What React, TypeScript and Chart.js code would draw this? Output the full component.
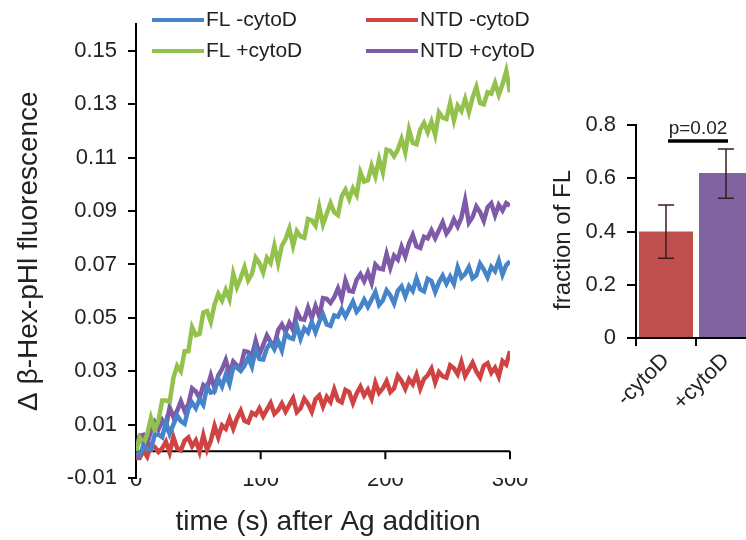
import React, { useEffect, useRef } from 'react';
import { Chart, registerables } from 'chart.js';
Chart.register(...registerables);

const FONT = '"Liberation Sans", Arial, sans-serif';

const times = [
  0, 3, 6, 9, 12, 15, 18, 21, 24, 27,
  30, 33, 36, 39, 42, 45, 48, 51, 54, 57,
  60, 63, 66, 69, 72, 75, 78, 81, 84, 87,
  90, 93, 96, 99, 102, 105, 108, 111, 114, 117,
  120, 123, 126, 129, 132, 135, 138, 141, 144, 147,
  150, 153, 156, 159, 162, 165, 168, 171, 174, 177,
  180, 183, 186, 189, 192, 195, 198, 201, 204, 207,
  210, 213, 216, 219, 222, 225, 228, 231, 234, 237,
  240, 243, 246, 249, 252, 255, 258, 261, 264, 267,
  270, 273, 276, 279, 282, 285, 288, 291, 294, 297,
  300,
];

const flMinusCytoD = [
  -0.0005, -0.0016, 0.0023, 0.0007, 0.0006, 0.0062, 0.0063, 0.0053, 0.0109, 0.0066,
  0.0100, 0.0134, 0.0113, 0.0103, 0.0159, 0.0182, 0.0161, 0.0195, 0.0174, 0.0241,
  0.0220, 0.0224, 0.0272, 0.0243, 0.0287, 0.0252, 0.0316, 0.0314, 0.0301, 0.0321,
  0.0352, 0.0317, 0.0381, 0.0346, 0.0344, 0.0386, 0.0406, 0.0382, 0.0413, 0.0378,
  0.0442, 0.0426, 0.0421, 0.0471, 0.0422, 0.0461, 0.0445, 0.0484, 0.0446, 0.0485,
  0.0513, 0.0475, 0.0470, 0.0509, 0.0504, 0.0532, 0.0505, 0.0533, 0.0561, 0.0523,
  0.0540, 0.0568, 0.0541, 0.0569, 0.0597, 0.0548, 0.0565, 0.0603, 0.0584, 0.0554,
  0.0601, 0.0618, 0.0580, 0.0619, 0.0601, 0.0648, 0.0607, 0.0599, 0.0646, 0.0638,
  0.0597, 0.0633, 0.0658, 0.0628, 0.0655, 0.0628, 0.0689, 0.0651, 0.0665, 0.0690,
  0.0648, 0.0659, 0.0703, 0.0681, 0.0652, 0.0691, 0.0675, 0.0714, 0.0662, 0.0698,
  0.0711,
];

const flPlusCytoD = [
  0.0000, 0.0050, 0.0025, 0.0065, 0.0125, 0.0080, 0.0115, 0.0190, 0.0190, 0.0185,
  0.0275, 0.0320, 0.0300, 0.0375, 0.0375, 0.0465, 0.0435, 0.0440, 0.0520, 0.0525,
  0.0485, 0.0550, 0.0590, 0.0565, 0.0605, 0.0570, 0.0665, 0.0615, 0.0650, 0.0690,
  0.0640, 0.0665, 0.0725, 0.0705, 0.0670, 0.0725, 0.0705, 0.0770, 0.0705, 0.0770,
  0.0795, 0.0835, 0.0770, 0.0825, 0.0805, 0.0800, 0.0870, 0.0865, 0.0845, 0.0915,
  0.0850, 0.0890, 0.0930, 0.0895, 0.0885, 0.0955, 0.0980, 0.0945, 0.0985, 0.0960,
  0.1045, 0.1010, 0.1015, 0.1070, 0.1030, 0.1095, 0.1045, 0.1130, 0.1125, 0.1105,
  0.1130, 0.1170, 0.1120, 0.1205, 0.1155, 0.1150, 0.1205, 0.1230, 0.1195, 0.1235,
  0.1185, 0.1270, 0.1250, 0.1245, 0.1305, 0.1240, 0.1295, 0.1275, 0.1320, 0.1270,
  0.1325, 0.1365, 0.1305, 0.1300, 0.1345, 0.1340, 0.1380, 0.1335, 0.1375, 0.1425,
  0.1345,
];

const ntdMinusCytoD = [
  -0.0025, -0.0025, 0.0003, -0.0020, 0.0024, 0.0016, -0.0003, 0.0011, 0.0036, -0.0005,
  0.0053, 0.0012, 0.0004, 0.0040, 0.0052, 0.0019, 0.0041, -0.0001, 0.0060, 0.0005,
  0.0039, 0.0095, 0.0052, 0.0097, 0.0084, 0.0123, 0.0085, 0.0124, 0.0152, 0.0114,
  0.0108, 0.0144, 0.0136, 0.0161, 0.0131, 0.0156, 0.0181, 0.0140, 0.0154, 0.0179,
  0.0149, 0.0174, 0.0199, 0.0147, 0.0161, 0.0197, 0.0178, 0.0148, 0.0195, 0.0209,
  0.0168, 0.0204, 0.0185, 0.0232, 0.0191, 0.0183, 0.0230, 0.0222, 0.0181, 0.0217,
  0.0242, 0.0209, 0.0231, 0.0198, 0.0257, 0.0219, 0.0236, 0.0263, 0.0222, 0.0236,
  0.0283, 0.0264, 0.0234, 0.0270, 0.0251, 0.0287, 0.0235, 0.0271, 0.0285, 0.0310,
  0.0258, 0.0297, 0.0281, 0.0276, 0.0322, 0.0311, 0.0289, 0.0334, 0.0282, 0.0307,
  0.0332, 0.0299, 0.0277, 0.0321, 0.0330, 0.0294, 0.0313, 0.0280, 0.0338, 0.0325,
  0.0375,
];

const ntdPlusCytoD = [
  0.0010, 0.0059, 0.0062, 0.0029, 0.0076, 0.0109, 0.0082, 0.0116, 0.0092, 0.0164,
  0.0128, 0.0152, 0.0188, 0.0152, 0.0176, 0.0236, 0.0224, 0.0200, 0.0248, 0.0236,
  0.0284, 0.0236, 0.0284, 0.0308, 0.0342, 0.0291, 0.0336, 0.0321, 0.0318, 0.0375,
  0.0372, 0.0357, 0.0414, 0.0363, 0.0398, 0.0434, 0.0410, 0.0397, 0.0454, 0.0475,
  0.0448, 0.0481, 0.0454, 0.0523, 0.0496, 0.0493, 0.0538, 0.0499, 0.0544, 0.0505,
  0.0574, 0.0571, 0.0556, 0.0577, 0.0610, 0.0571, 0.0640, 0.0601, 0.0598, 0.0643,
  0.0664, 0.0637, 0.0670, 0.0631, 0.0700, 0.0685, 0.0682, 0.0739, 0.0688, 0.0733,
  0.0718, 0.0766, 0.0730, 0.0778, 0.0810, 0.0768, 0.0762, 0.0804, 0.0798, 0.0828,
  0.0798, 0.0828, 0.0858, 0.0816, 0.0836, 0.0869, 0.0842, 0.0875, 0.0940, 0.0857,
  0.0878, 0.0917, 0.0896, 0.0863, 0.0914, 0.0929, 0.0884, 0.0923, 0.0902, 0.0930,
  0.0920,
];

const seriesLabels = ['FL -cytoD', 'FL +cytoD', 'NTD -cytoD', 'NTD +cytoD'];
const seriesColors = ['#4584c8', '#93c24c', '#cf4443', '#7f5aa8'];
const yTicks = [-0.01, 0.01, 0.03, 0.05, 0.07, 0.09, 0.11, 0.13, 0.15];
const xTicks = [0, 100, 200, 300];
const xTitle = 'time (s) after Ag addition';
const yTitle = 'Δ β-Hex-pHl fluorescence';

const barCategories = ['-cytoD', '+cytoD'];
const barValues = [0.40, 0.62];
const barErrLow = [0.30, 0.525];
const barErrHigh = [0.50, 0.71];
const barColors = ['#c0504d', '#8064a2'];
const barTicks = [0, 0.2, 0.4, 0.6, 0.8];
const barTitle = 'fraction of FL';
const pLabel = 'p=0.02';
const pLineValue = 0.74;

const TEXT = '#222';

function MainChart() {
  const ref = useRef<HTMLCanvasElement>(null);
  useEffect(() => {
    const series = [flMinusCytoD, flPlusCytoD, ntdMinusCytoD, ntdPlusCytoD];
    const zeroAxisPlugin = {
      id: 'zeroAxis',
      beforeDatasetsDraw(chart: any) {
        const ctx = chart.ctx;
        const xs = chart.scales.x;
        const ys = chart.scales.y;
        const y0 = ys.getPixelForValue(0);
        ctx.save();
        ctx.strokeStyle = '#000';
        ctx.lineWidth = 2;
        ctx.beginPath();
        ctx.moveTo(xs.getPixelForValue(xTicks[0]), y0);
        ctx.lineTo(xs.getPixelForValue(xTicks[xTicks.length - 1]), y0);
        xTicks.forEach((t) => {
          const px = xs.getPixelForValue(t);
          ctx.moveTo(px, y0);
          ctx.lineTo(px, y0 + 8);
        });
        ctx.stroke();
        ctx.restore();
      },
    };
    const legendPlugin = {
      id: 'legendAndTitle',
      afterDraw(chart: any) {
        const ctx = chart.ctx;
        ctx.save();
        const pos = [
          [152, 20], [152, 51], [366, 20], [366, 51],
        ];
        seriesLabels.forEach((lab, i) => {
          const [x, y] = pos[i];
          ctx.strokeStyle = seriesColors[i];
          ctx.lineWidth = 4;
          ctx.beginPath();
          ctx.moveTo(x, y);
          ctx.lineTo(x + 52, y);
          ctx.stroke();
          ctx.fillStyle = TEXT;
          ctx.font = `21px ${FONT}`;
          ctx.textBaseline = 'middle';
          ctx.textAlign = 'left';
          ctx.fillText(lab, x + 54, y);
        });
        ctx.font = `28px ${FONT}`;
        ctx.textAlign = 'center';
        ctx.textBaseline = 'middle';
        ctx.fillStyle = TEXT;
        ctx.fillText(xTitle, 328, 522);
        ctx.restore();
      },
    };
    const chart = new Chart(ref.current!, {
      type: 'line',
      data: {
        datasets: series.map((s, i) => ({
          label: seriesLabels[i],
          data: times.map((t, j) => ({ x: t, y: s[j] })),
          borderColor: seriesColors[i],
          backgroundColor: seriesColors[i],
          borderWidth: 4.5,
          pointRadius: 0,
          tension: 0,
          fill: false,
        })),
      },
      options: {
        responsive: false,
        animation: false,
        layout: { padding: { top: 17, right: 236, bottom: 0, left: 0 } },
        plugins: { legend: { display: false }, tooltip: { enabled: false } },
        scales: {
          x: {
            type: 'linear',
            min: 0,
            max: 300,
            position: 'bottom',
            afterBuildTicks: (s: any) => { s.ticks = xTicks.map((v) => ({ value: v })); },
            afterFit: (s: any) => { s.height = 62; },
            grid: { display: false, drawOnChartArea: false, drawTicks: false },
            border: { display: false },
            ticks: { font: { family: FONT, size: 22 }, color: TEXT, padding: -11, maxRotation: 0, autoSkip: false },
          },
          y: {
            min: -0.01,
            max: 0.16,
            afterBuildTicks: (s: any) => { s.ticks = yTicks.map((v) => ({ value: v })); },
            afterFit: (s: any) => { s.width = 136; },
            grid: { drawOnChartArea: false, drawTicks: true, tickLength: 8, color: '#000', lineWidth: 2 },
            border: { display: true, color: '#000', width: 2 },
            ticks: {
              font: { family: FONT, size: 22 },
              color: TEXT,
              padding: 11,
              callback: (v: any) => Number(v).toFixed(2),
            },
            title: {
              display: true,
              text: yTitle,
              font: { family: FONT, size: 28 },
              color: TEXT,
              padding: { top: 12, bottom: 0 },
            },
          },
        },
      },
      plugins: [zeroAxisPlugin, legendPlugin],
    });
    return () => chart.destroy();
  }, []);
  return (
    <canvas
      ref={ref}
      width={746}
      height={540}
      style={{ position: 'absolute', left: 0, top: 0, width: 746, height: 540, display: 'block' }}
    />
  );
}

function InsetChart() {
  const ref = useRef<HTMLCanvasElement>(null);
  useEffect(() => {
    const errPlugin = {
      id: 'errorBars',
      afterDatasetsDraw(chart: any) {
        const ctx = chart.ctx;
        const ys = chart.scales.y;
        const xs = chart.scales.x;
        const meta = chart.getDatasetMeta(0);
        ctx.save();
        ctx.strokeStyle = '#3a1c1c';
        ctx.lineWidth = 1.5;
        meta.data.forEach((bar: any, i: number) => {
          const x = bar.x;
          const yl = ys.getPixelForValue(barErrLow[i]);
          const yh = ys.getPixelForValue(barErrHigh[i]);
          ctx.beginPath();
          ctx.moveTo(x, yl);
          ctx.lineTo(x, yh);
          ctx.moveTo(x - 8, yl);
          ctx.lineTo(x + 8, yl);
          ctx.moveTo(x - 8, yh);
          ctx.lineTo(x + 8, yh);
          ctx.stroke();
        });
        const x0 = xs.getPixelForValue(0) + 2;
        const x1 = xs.getPixelForValue(1) + 2;
        const yp = ys.getPixelForValue(pLineValue);
        ctx.strokeStyle = '#000';
        ctx.lineWidth = 3.5;
        ctx.beginPath();
        ctx.moveTo(x0, yp);
        ctx.lineTo(x1, yp);
        ctx.stroke();
        ctx.fillStyle = TEXT;
        ctx.font = `19px ${FONT}`;
        ctx.textAlign = 'center';
        ctx.textBaseline = 'bottom';
        ctx.fillText(pLabel, (x0 + x1) / 2, yp - 3);
        // y-axis title (slightly below the chart-area centre, as in the reference)
        ctx.save();
        ctx.translate(23, 150);
        ctx.rotate(-Math.PI / 2);
        ctx.font = `24px ${FONT}`;
        ctx.textAlign = 'center';
        ctx.textBaseline = 'middle';
        ctx.fillText(barTitle, 0, 0);
        ctx.restore();
        ctx.restore();
      },
    };
    const chart = new Chart(ref.current!, {
      type: 'bar',
      data: {
        labels: barCategories,
        datasets: [
          {
            data: barValues,
            backgroundColor: barColors,
            borderWidth: 0,
            barPercentage: 0.9,
            categoryPercentage: 1.0,
          },
        ],
      },
      options: {
        responsive: false,
        animation: false,
        layout: { padding: { top: 35, right: 14, bottom: 0, left: 0 } },
        plugins: { legend: { display: false }, tooltip: { enabled: false } },
        scales: {
          x: {
            type: 'category',
            offset: true,
            afterFit: (s: any) => { s.height = 82; },
            grid: { offset: true, drawOnChartArea: false, drawTicks: true, tickLength: 8, color: '#000', lineWidth: 2 },
            border: { display: true, color: '#000', width: 2 },
            ticks: { font: { family: FONT, size: 22 }, color: TEXT, padding: 2, maxRotation: 45, minRotation: 45, autoSkip: false },
          },
          y: {
            min: 0,
            max: 0.8,
            afterBuildTicks: (s: any) => { s.ticks = barTicks.map((v) => ({ value: v })); },
            afterFit: (s: any) => { s.width = 96; },
            grid: { drawOnChartArea: false, drawTicks: true, tickLength: 9, color: '#000', lineWidth: 2 },
            border: { display: true, color: '#000', width: 2 },
            ticks: {
              font: { family: FONT, size: 22 },
              color: TEXT,
              padding: 11,
              callback: (v: any) => (Number(v) === 0 ? '0' : Number(v).toFixed(1)),
            },
          },
        },
      },
      plugins: [errPlugin],
    });
    return () => chart.destroy();
  }, []);
  return (
    <canvas
      ref={ref}
      width={230}
      height={330}
      style={{ position: 'absolute', left: 540, top: 90, width: 230, height: 330, display: 'block' }}
    />
  );
}

export default function App() {
  return (
    <div
      style={{
        position: 'fixed',
        left: 0,
        top: 0,
        width: 746,
        height: 540,
        overflow: 'hidden',
        background: '#fff',
      }}
    >
      <MainChart />
      <InsetChart />
    </div>
  );
}
